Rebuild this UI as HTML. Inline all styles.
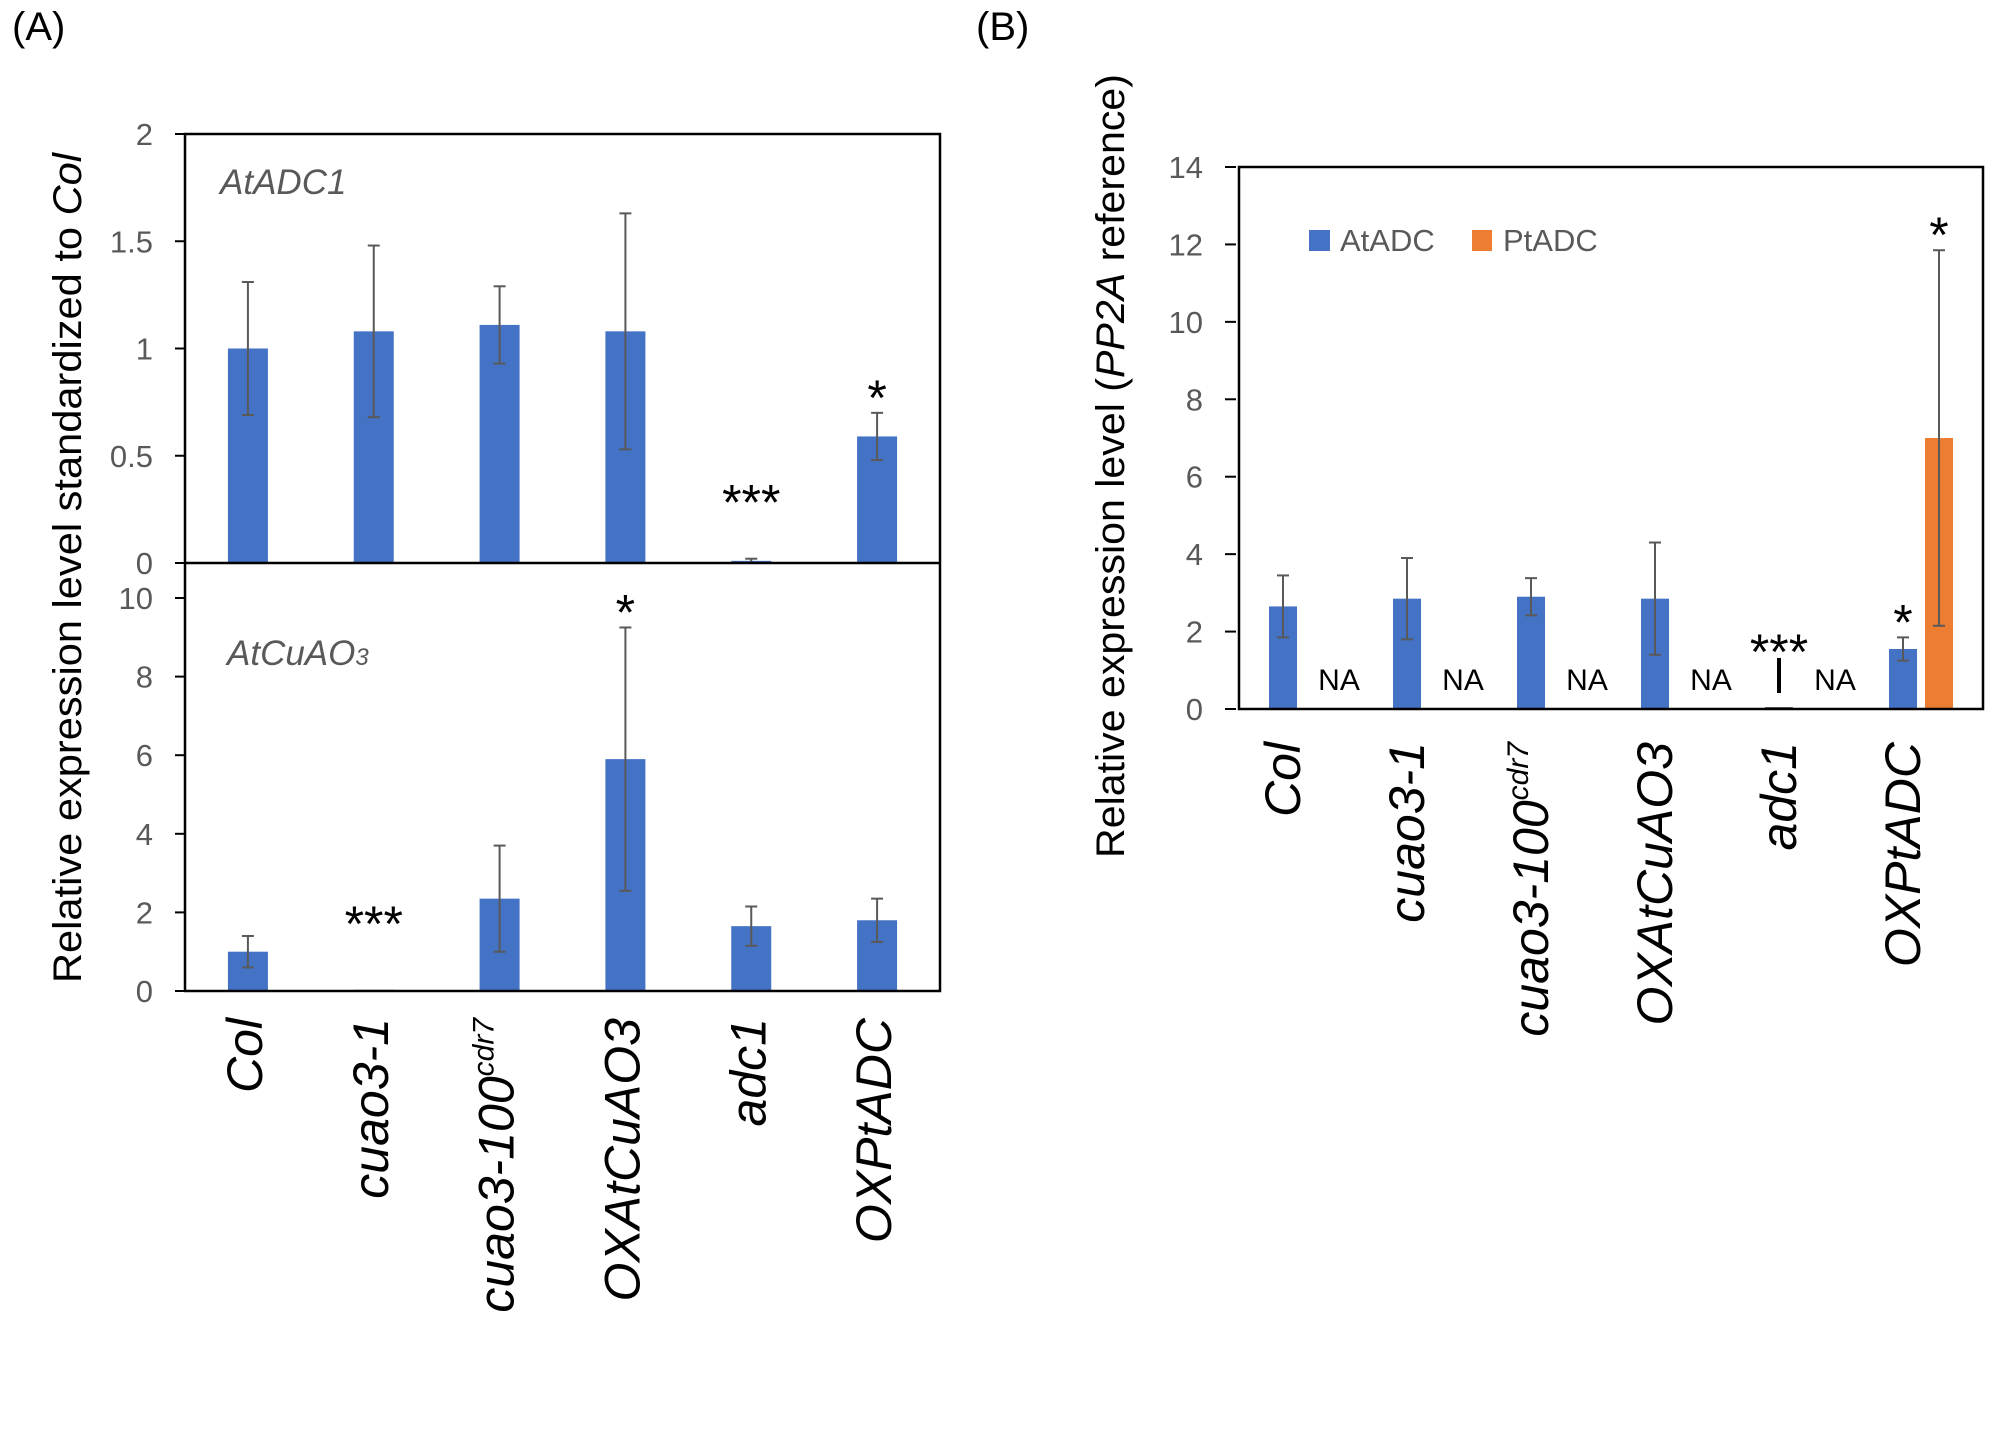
<!DOCTYPE html>
<html><head><meta charset="utf-8"><style>
html,body{margin:0;padding:0;background:#fff;}
svg{display:block;font-family:"Liberation Sans",sans-serif;}
</style></head><body>
<svg id="fig" width="2003" height="1430" viewBox="0 0 2003 1430" xmlns="http://www.w3.org/2000/svg">
<text x="12" y="40" font-size="40" fill="#000">(A)</text>
<text x="976" y="40" font-size="40" fill="#000">(B)</text>
<text transform="translate(81,568) rotate(-90)" text-anchor="middle" font-size="40" textLength="830" lengthAdjust="spacingAndGlyphs">Relative expression level standardized to <tspan font-style="italic">Col</tspan></text>
<text transform="translate(1124,466) rotate(-90)" text-anchor="middle" font-size="40" textLength="784" lengthAdjust="spacingAndGlyphs">Relative expression level (<tspan font-style="italic">PP2A</tspan> reference)</text>
<text x="220" y="194" font-size="35" font-style="italic" fill="#595959">AtADC1</text>
<text x="227" y="665" font-size="35" font-style="italic" fill="#595959">AtCuAO<tspan font-size="24">3</tspan></text>
<g>
<rect x="1309" y="230" width="21" height="21" fill="#4472c4"/>
<text x="1340" y="251" font-size="31" fill="#595959">AtADC</text>
<rect x="1472" y="230" width="20" height="21" fill="#ed7d31"/>
<text x="1503" y="251" font-size="31" fill="#595959">PtADC</text>
</g>
<g id="layer"></g>
</svg>
<script>
const categories = ["Col","cuao3-1","cuao3-100","OXAtCuAO3","adc1","OXPtADC"];
const adc1Values = [1.0, 1.08, 1.11, 1.08, 0.01, 0.59];
const adc1Err = [0.31, 0.40, 0.18, 0.55, 0.01, 0.11];
const adc1Sig = ["", "", "", "", "***", "*"];
const adc1Ticks = [0, 0.5, 1, 1.5, 2];
const cuao3Values = [1.0, 0.03, 2.35, 5.9, 1.65, 1.8];
const cuao3Err = [0.4, 0.0, 1.35, 3.35, 0.5, 0.55];
const cuao3Sig = ["", "***", "", "*", "", ""];
const cuao3Ticks = [0, 2, 4, 6, 8, 10];
const atadcValues = [2.65, 2.85, 2.9, 2.85, 0.05, 1.55];
const atadcErr = [0.8, 1.05, 0.48, 1.45, 0.0, 0.3];
const atadcSig = ["", "", "", "", "***", "*"];
const ptadcValues = [null, null, null, null, null, 7.0];
const ptadcErr = [0, 0, 0, 0, 0, 4.85];
const ptadcSig = ["", "", "", "", "", "*"];
const bTicks = [0, 2, 4, 6, 8, 10, 12, 14];

const NS = "http://www.w3.org/2000/svg";
const layer = document.getElementById("layer");
function mk(tag, attrs, parent) {
  const e = document.createElementNS(NS, tag);
  for (const k in attrs) e.setAttribute(k, attrs[k]);
  (parent || layer).appendChild(e);
  return e;
}
const BLUE = "#4472c4", ORANGE = "#ed7d31", GRAY = "#595959";

const aL = 185, aR = 940, aTop = 134, aMid = 563, aBot = 991, bTopLow = 598;
const aBand = (aR - aL) / categories.length;
const ax = i => aL + (i + 0.5) * aBand;
const yUp = v => aMid - (v / 2) * (aMid - aTop);
const yLow = v => aBot - (v / 10) * (aBot - bTopLow);

function errBar(x, y1, y2, name) {
  const g = mk("g", {});
  
  
  mk("line", {x1: x, x2: x, y1: y1, y2: y2, stroke: GRAY, "stroke-width": 2}, g);
  mk("line", {x1: x - 6, x2: x + 6, y1: y1, y2: y1, stroke: GRAY, "stroke-width": 2}, g);
  mk("line", {x1: x - 6, x2: x + 6, y1: y2, y2: y2, stroke: GRAY, "stroke-width": 2}, g);
}
function star(x, y, s, name) {
  if (!s) return;
  const t = mk("text", {x: x, y: y + 24, "text-anchor": "middle", "font-size": 50, fill: "#000"});
  
  
  t.textContent = s;
}
function tickLabel(x, y, s, name) {
  const t = mk("text", {x: x, y: y + 11, "text-anchor": "end", "font-size": 31, fill: GRAY});
  
  
  t.textContent = s;
  mk("line", {x1: x + 22, x2: x + 33, y1: y, y2: y, stroke: "#000", "stroke-width": 2});
}

const bwA = 40;
categories.forEach((c, i) => {
  const x = ax(i);
  const r = mk("rect", {x: x - bwA / 2, y: yUp(adc1Values[i]), width: bwA, height: aMid - yUp(adc1Values[i]), fill: BLUE});
  
  
  if (adc1Err[i] > 0) errBar(x, yUp(adc1Values[i] + adc1Err[i]), yUp(adc1Values[i] - adc1Err[i]), 'error-bar-atadc1-' + c);
  star(x, yUp(adc1Values[i] + adc1Err[i]) - (adc1Sig[i] === "***" ? 63 : 22), adc1Sig[i], 'significance-atadc1-' + c);
  const r2 = mk("rect", {x: x - bwA / 2, y: yLow(cuao3Values[i]), width: bwA, height: aBot - yLow(cuao3Values[i]), fill: cuao3Values[i] < 0.1 ? GRAY : BLUE});
  
  
  if (cuao3Err[i] > 0) errBar(x, yLow(cuao3Values[i] + cuao3Err[i]), yLow(cuao3Values[i] - cuao3Err[i]), 'error-bar-atcuao3-' + c);
  star(x, yLow(cuao3Values[i] + cuao3Err[i]) - (cuao3Sig[i] === "***" ? 73 : 22), cuao3Sig[i], 'significance-atcuao3-' + c);
});
adc1Ticks.forEach(v => tickLabel(153, yUp(v), String(v), 'y-tick-atadc1-' + v));
cuao3Ticks.forEach(v => tickLabel(153, yLow(v), String(v), 'y-tick-atcuao3-' + v));
mk("rect", {x: aL, y: aTop, width: aR - aL, height: aBot - aTop, fill: "none", stroke: "#000", "stroke-width": 2.5});
mk("line", {x1: aL, x2: aR, y1: aMid, y2: aMid, stroke: "#000", "stroke-width": 2.5});

const bL = 1239, bR = 1983, bT = 167, bB = 709;
const bBand = (bR - bL) / categories.length;
const bx = i => bL + (i + 0.5) * bBand;
const yB = v => bB - (v / 14) * (bB - bT);
const bwB = 28;
categories.forEach((c, i) => {
  const xb = bx(i) - 18, xo = bx(i) + 18;
  const r = mk("rect", {x: xb - bwB / 2, y: yB(atadcValues[i]), width: bwB, height: bB - yB(atadcValues[i]), fill: atadcValues[i] < 0.1 ? GRAY : BLUE});
  
  
  if (atadcErr[i] > 0) errBar(xb, yB(atadcValues[i] + atadcErr[i]), yB(atadcValues[i] - atadcErr[i]), 'error-bar-atadc-' + c);
  if (atadcSig[i] === "***") {
    star(xb, yB(atadcValues[i]) - 62, atadcSig[i], 'significance-atadc-' + c);
    mk("line", {x1: xb, x2: xb, y1: 658, y2: 693, stroke: "#000", "stroke-width": 4});
  } else star(xb, yB(atadcValues[i] + atadcErr[i]) - 22, atadcSig[i], 'significance-atadc-' + c);
  if (ptadcValues[i] === null) {
    const t = mk("text", {x: bx(i) + 38, y: 690, "text-anchor": "middle", "font-size": 30, fill: "#000"});
    
    
    t.textContent = "NA";
  } else {
    const r2 = mk("rect", {x: xo - bwB / 2, y: yB(ptadcValues[i]), width: bwB, height: bB - yB(ptadcValues[i]), fill: ORANGE});
    
    
    errBar(xo, yB(ptadcValues[i] + ptadcErr[i]), yB(ptadcValues[i] - ptadcErr[i]), 'error-bar-ptadc-' + c);
    star(xo, yB(ptadcValues[i] + ptadcErr[i]) - 22, ptadcSig[i], 'significance-ptadc-' + c);
  }
});
bTicks.forEach(v => tickLabel(1203, yB(v), String(v), 'y-tick-b-' + v));
mk("rect", {x: bL, y: bT, width: bR - bL, height: bB - bT, fill: "none", stroke: "#000", "stroke-width": 2.5});

function xLabel(cx, top, c, name) {
  const t = mk("text", {transform: "translate(" + (cx + 17) + "," + top + ") rotate(-90)", "text-anchor": "end", "font-size": 50, "font-style": "italic", fill: "#000"});
  
  
  if (c === "cuao3-100") {
    t.textContent = "cuao3-100";
    const s = mk("tspan", {"font-size": 30, dy: -20}, t);
    s.textContent = "cdr7";
  } else t.textContent = c;
}
categories.forEach((c, i) => {
  xLabel(ax(i) - 3, 1018, c, 'x-label-a-' + c);
  xLabel(bx(i) - 18, 742, c, 'x-label-b-' + c);
});
</script>
</body></html>
